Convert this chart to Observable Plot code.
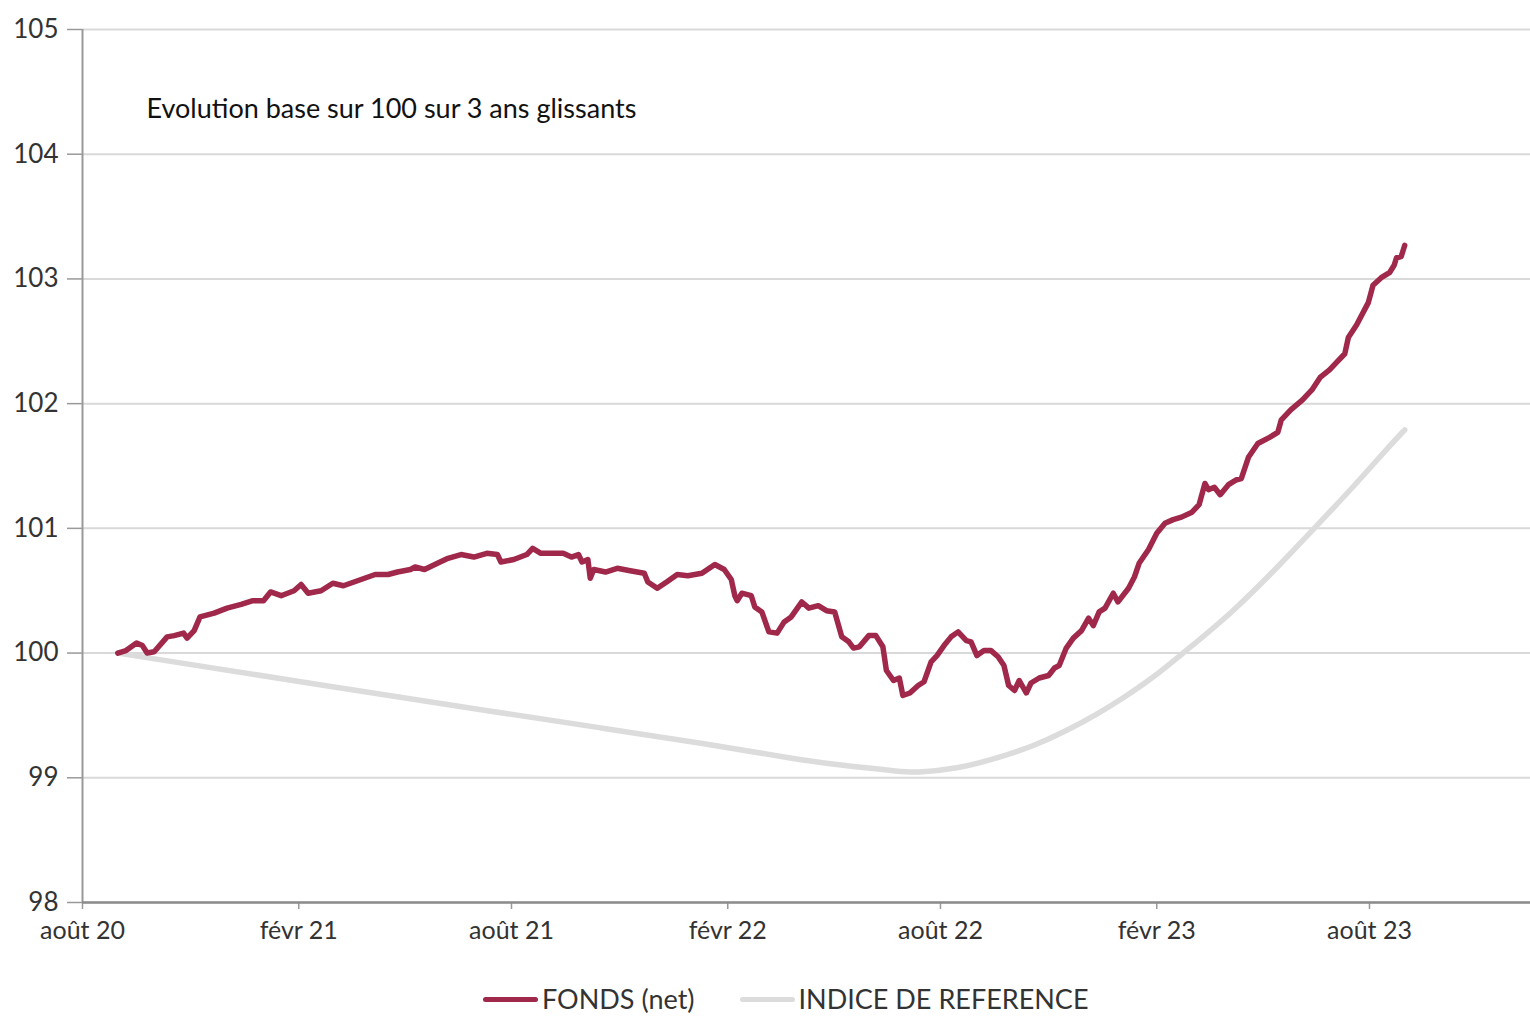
<!DOCTYPE html>
<html>
<head>
<meta charset="utf-8">
<script src="https://cdn.jsdelivr.net/npm/d3@7"></script>
<script src="https://cdn.jsdelivr.net/npm/@observablehq/plot@0.6"></script>
<style>
  body { margin: 0; background: #fff; }
  #chart { position: relative; width: 1530px; height: 1017px; overflow: hidden; }
  #chart svg { display: block; }
  .legend { position: absolute; top: 984px; left: 483px; display: flex; align-items: center;
            font-family: Lato, "Noto Sans", sans-serif; font-size: 27px; line-height: 30px; color: #333; }
  .item { display: flex; align-items: center; }
  .item + .item { margin-left: 45px; }
  .sw { width: 55px; height: 5px; border-radius: 3px; margin-right: 4px; }
</style>
</head>
<body>
<div id="chart"></div>
<script>
const fundDates = ["2020-08-31","2020-09-07","2020-09-16","2020-09-21","2020-09-25","2020-10-01","2020-10-12","2020-10-18","2020-10-26","2020-10-29","2020-11-04","2020-11-09","2020-11-21","2020-12-02","2020-12-14","2020-12-24","2021-01-02","2021-01-08","2021-01-17","2021-01-28","2021-02-03","2021-02-09","2021-02-20","2021-03-02","2021-03-11","2021-03-26","2021-04-07","2021-04-18","2021-04-26","2021-05-07","2021-05-11","2021-05-19","2021-05-30","2021-06-08","2021-06-19","2021-06-30","2021-07-11","2021-07-20","2021-07-23","2021-08-03","2021-08-14","2021-08-19","2021-08-26","2021-09-06","2021-09-14","2021-09-21","2021-09-27","2021-09-30","2021-10-05","2021-10-07","2021-10-10","2021-10-20","2021-10-30","2021-11-10","2021-11-22","2021-11-25","2021-12-03","2021-12-11","2021-12-20","2021-12-29","2022-01-10","2022-01-21","2022-01-29","2022-02-04","2022-02-07","2022-02-09","2022-02-13","2022-02-21","2022-02-24","2022-03-02","2022-03-08","2022-03-15","2022-03-21","2022-03-27","2022-04-05","2022-04-11","2022-04-19","2022-04-26","2022-05-03","2022-05-09","2022-05-15","2022-05-19","2022-05-24","2022-06-01","2022-06-07","2022-06-13","2022-06-16","2022-06-22","2022-06-27","2022-06-30","2022-07-06","2022-07-13","2022-07-18","2022-07-24","2022-07-29","2022-08-04","2022-08-10","2022-08-16","2022-08-23","2022-08-27","2022-09-01","2022-09-07","2022-09-13","2022-09-19","2022-09-24","2022-09-28","2022-10-03","2022-10-07","2022-10-13","2022-10-17","2022-10-24","2022-11-01","2022-11-06","2022-11-10","2022-11-16","2022-11-22","2022-11-29","2022-12-05","2022-12-09","2022-12-14","2022-12-19","2022-12-26","2022-12-30","2023-01-08","2023-01-13","2023-01-17","2023-01-25","2023-02-01","2023-02-08","2023-02-15","2023-02-22","2023-03-03","2023-03-09","2023-03-14","2023-03-17","2023-03-22","2023-03-27","2023-04-03","2023-04-10","2023-04-14","2023-04-20","2023-04-28","2023-05-08","2023-05-15","2023-05-18","2023-05-26","2023-06-05","2023-06-13","2023-06-20","2023-06-28","2023-07-04","2023-07-11","2023-07-14","2023-07-21","2023-07-31","2023-08-04","2023-08-11","2023-08-18","2023-08-22","2023-08-24","2023-08-28","2023-08-31"];
const fundValues = [100.00,100.02,100.08,100.06,100.00,100.01,100.13,100.14,100.16,100.12,100.18,100.29,100.32,100.36,100.39,100.42,100.42,100.49,100.46,100.50,100.55,100.48,100.50,100.56,100.54,100.59,100.63,100.63,100.65,100.67,100.69,100.67,100.72,100.76,100.79,100.77,100.80,100.79,100.73,100.75,100.79,100.84,100.80,100.80,100.80,100.77,100.79,100.73,100.75,100.60,100.67,100.65,100.68,100.66,100.64,100.57,100.52,100.57,100.63,100.62,100.64,100.71,100.67,100.59,100.46,100.42,100.48,100.46,100.37,100.33,100.17,100.16,100.25,100.29,100.41,100.36,100.38,100.34,100.33,100.13,100.09,100.04,100.05,100.14,100.14,100.05,99.86,99.78,99.80,99.66,99.68,99.74,99.77,99.93,99.98,100.06,100.13,100.17,100.10,100.09,99.98,100.02,100.02,99.97,99.90,99.74,99.70,99.78,99.68,99.76,99.80,99.82,99.88,99.90,100.04,100.12,100.18,100.28,100.22,100.33,100.36,100.48,100.41,100.52,100.61,100.72,100.83,100.96,101.04,101.07,101.09,101.13,101.19,101.36,101.31,101.33,101.27,101.35,101.39,101.40,101.57,101.68,101.73,101.77,101.87,101.95,102.03,102.11,102.21,102.27,102.33,102.40,102.53,102.63,102.81,102.95,103.01,103.05,103.11,103.17,103.18,103.27];

const benchDates = ["2020-08-31","2021-02-03","2021-07-23","2021-10-16","2022-01-09","2022-04-05","2022-05-17","2022-06-29","2022-07-10","2022-08-15","2022-09-19","2022-10-18","2022-11-15","2022-12-14","2023-01-02","2023-01-30","2023-02-22","2023-04-06","2023-05-18","2023-06-15","2023-07-20","2023-08-17","2023-08-31"];
const benchValues = [100.00,99.77,99.52,99.40,99.28,99.14,99.09,99.05,99.04,99.07,99.16,99.25,99.37,99.52,99.63,99.81,99.99,100.32,100.72,101.00,101.35,101.65,101.79];

const yTicks = [98, 99, 100, 101, 102, 103, 104, 105];
const xTickDates = ["2020-08-01","2021-02-01","2021-08-01","2022-02-01","2022-08-01","2023-02-01","2023-08-01"];
const xTickLabels = ["août 20","févr 21","août 21","févr 22","août 22","févr 23","août 23"];
const xDomain = ["2020-08-01","2023-12-16"];
const titleText = "Evolution base sur 100 sur 3 ans glissants";
const seriesNames = ["FONDS (net)", "INDICE DE REFERENCE"];
const seriesColors = ["#a0284a", "#dcdcdc"];

const parse = d3.utcParse("%Y-%m-%d");
const fund = fundDates.map((d, i) => ({date: parse(d), value: fundValues[i]}));
const bench = benchDates.map((d, i) => ({date: parse(d), value: benchValues[i]}));
const xTicks = xTickDates.map(parse);
const labelOf = new Map(xTicks.map((d, i) => [+d, xTickLabels[i]]));

const font = "Lato, 'Noto Sans', sans-serif";

const chart = Plot.plot({
  width: 1530,
  height: 960,
  marginLeft: 82,
  marginRight: 0,
  marginTop: 29,
  marginBottom: 58,
  style: {fontFamily: font, fontSize: "25px", color: "#333", background: "#fff"},
  x: {type: "utc", domain: xDomain.map(parse)},
  y: {domain: [98, 105]},
  marks: [
    Plot.gridY(yTicks, {stroke: "#d9d9d9", strokeWidth: 2, strokeOpacity: 1}),
    Plot.axisY(yTicks, {tickSize: 15, tickPadding: 9, stroke: "#999", strokeWidth: 1.5, label: null, fill: "#333",
      fontSize: 26, tickFormat: d => String(d)}),
    Plot.axisX(xTicks, {tickSize: 7, tickPadding: 12, stroke: "#999", strokeWidth: 1.5, label: null, fill: "#333",
      tickFormat: d => labelOf.get(+d)}),
    Plot.ruleX([parse(xDomain[0])], {stroke: "#999", strokeWidth: 2}),
    Plot.ruleY([98], {stroke: "#8c8c8c", strokeWidth: 2.5}),
    Plot.line(bench, {x: "date", y: "value", stroke: seriesColors[1], strokeWidth: 5.5, curve: "basis", strokeLinecap: "round"}),
    Plot.line(fund, {x: "date", y: "value", stroke: seriesColors[0], strokeWidth: 5.5, strokeLinejoin: "round", strokeLinecap: "round"}),
    Plot.text([titleText], {frameAnchor: "top-left", dx: 64, dy: 80, textAnchor: "start", lineAnchor: "middle",
      fontFamily: font, fontSize: 27, fill: "#111"})
  ]
});

const root = document.getElementById("chart");
root.appendChild(chart);

const legend = document.createElement("div");
legend.className = "legend";
seriesNames.forEach((name, i) => {
  const item = document.createElement("div");
  item.className = "item";
  const sw = document.createElement("span");
  sw.className = "sw";
  sw.style.background = seriesColors[i];
  const t = document.createElement("span");
  t.textContent = name;
  item.appendChild(sw);
  item.appendChild(t);
  legend.appendChild(item);
});
root.appendChild(legend);
</script>
</body>
</html>
